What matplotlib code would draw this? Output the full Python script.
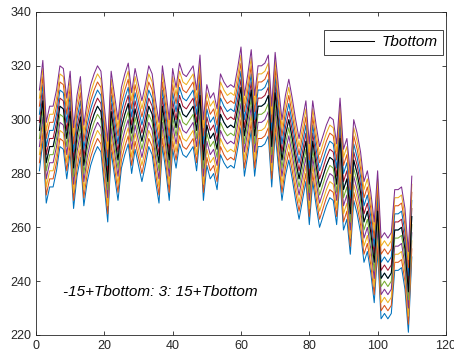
import matplotlib
matplotlib.use("Agg")
import matplotlib.pyplot as plt
import numpy as np

plt.rcParams["font.family"] = ["Liberation Sans", "DejaVu Sans"]

# Tbottom, one value per sample (x = 1..110)
x = list(range(1, 111))
tbottom = [
    296, 307, 284, 290, 290, 296, 305, 304, 293, 303,
    282, 294, 301, 283, 292, 298, 302, 305, 303, 290,
    277, 303, 294, 285, 297, 302, 306, 295, 304, 298,
    292, 298, 305, 302, 292, 284, 305, 296, 285, 304,
    297, 306, 302, 301, 303, 305, 296, 309, 285, 298,
    293, 295, 289, 302, 299, 297, 298, 297, 304, 312,
    294, 302, 311, 294, 305, 305, 306, 309, 290, 310,
    297, 285, 294, 300, 293, 285, 278, 285, 292, 276,
    292, 283, 275, 279, 283, 286, 285, 276, 293, 274,
    278, 265, 285, 280, 273, 262, 266, 258, 247, 266,
    241, 243, 241, 243, 259, 259, 260, 252, 236, 264,
]
offsets = list(range(-15, 16, 3))

matlab_colors = ["#0072BD", "#D95319", "#EDB120", "#7E2F8E",
                 "#77AC30", "#4DBEEE", "#A2142F"]

fig = plt.figure(figsize=(4.54, 3.59), dpi=100)
ax = fig.add_axes([0.0793, 0.0669, 0.903, 0.8997])

tb = np.array(tbottom, dtype=float)
for i, off in enumerate(offsets):
    ax.plot(x, tb + off, color=matlab_colors[i % len(matlab_colors)],
            linewidth=0.75)
line, = ax.plot(x, tb, color="black", linewidth=0.75)

ax.set_xlim(0, 120)
ax.set_ylim(220, 340)
ax.set_xticks(range(0, 121, 20))
ax.set_yticks(range(220, 341, 20))
ax.tick_params(direction="in", length=3, width=0.6, labelsize=9,
               colors="#262626", top=True, right=True)
for spine in ax.spines.values():
    spine.set_color("#262626")
    spine.set_linewidth(0.6)

ax.text(8, 236, "-15+Tbottom: 3: 15+Tbottom", fontsize=11,
        style="italic", va="center", ha="left")

leg = ax.legend([line], ["Tbottom"], loc="upper right",
                bbox_to_anchor=(0.993, 0.944), borderaxespad=0,
                fancybox=False, framealpha=1, edgecolor="#262626",
                borderpad=0.35, handlelength=2.9, handletextpad=0.5,
                prop={"size": 11, "style": "italic"})
leg.get_frame().set_linewidth(0.6)

fig.savefig("out.png", dpi=100)
